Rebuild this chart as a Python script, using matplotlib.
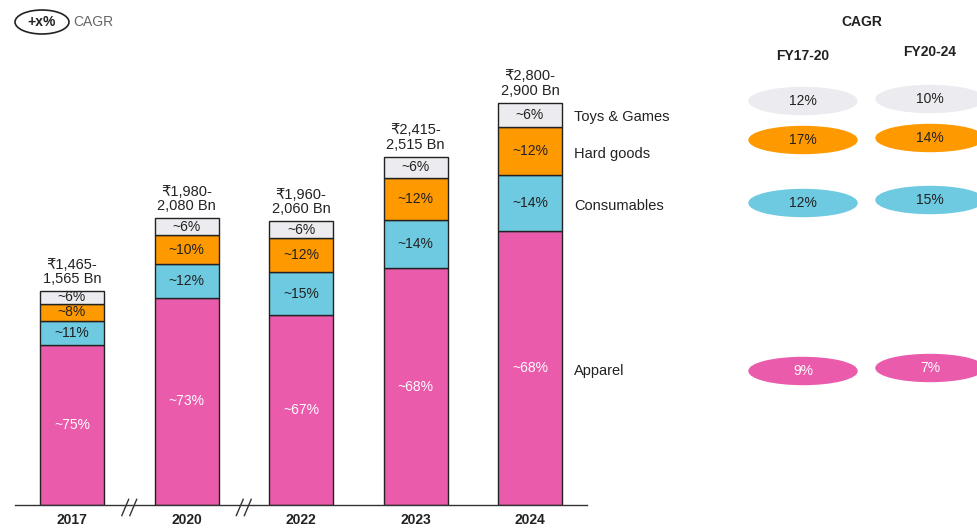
import matplotlib.pyplot as plt
from matplotlib.patches import Ellipse

plt.rcParams['font.family'] = ['Liberation Sans', 'DejaVu Sans']

years = ['2017', '2020', '2022', '2023', '2024']
total_low = [1465, 1980, 1960, 2415, 2800]
total_high = [1565, 2080, 2060, 2515, 2900]
segments = ['Apparel', 'Consumables', 'Hard goods', 'Toys & Games']
shares = {
    'Apparel': [75, 73, 67, 68, 68],
    'Consumables': [11, 12, 15, 14, 14],
    'Hard goods': [8, 10, 12, 12, 12],
    'Toys & Games': [6, 6, 6, 6, 6],
}
cagr_periods = ['FY17-20', 'FY20-24']
cagr = {
    'Toys & Games': ['12%', '10%'],
    'Hard goods': ['17%', '14%'],
    'Consumables': ['12%', '15%'],
    'Apparel': ['9%', '7%'],
}
colors = {'Apparel': '#EB5BAC', 'Consumables': '#6DCAE0',
          'Hard goods': '#FF9900', 'Toys & Games': '#ECECF0'}
text_colors = {'Apparel': 'white', 'Consumables': '#222222',
               'Hard goods': '#222222', 'Toys & Games': '#222222'}

W, H = 978, 528
fig = plt.figure(figsize=(W / 100, H / 100), dpi=100)

# bar axes, in pixel layout
ax_left, ax_right, ax_base = 15, 587, 505
ax = fig.add_axes([ax_left / W, (H - ax_base) / H, (ax_right - ax_left) / W, ax_base / H])
px_per_x = 114.5
x0 = 72
ax.set_xlim((ax_left - x0) / px_per_x, (ax_right - x0) / px_per_x)
ax.set_ylim(0, ax_base / 0.1412)
for s in ['top', 'right', 'left']:
    ax.spines[s].set_visible(False)
ax.spines['bottom'].set_color('#333333')
ax.spines['bottom'].set_linewidth(1.0)
ax.set_yticks([])
ax.set_xticks(range(len(years)))
ax.set_xticklabels(years, fontsize=10, fontweight='bold', color='#222222')
ax.tick_params(axis='x', length=0, pad=6)

width = 64 / px_per_x
for i in range(len(years)):
    total = (total_low[i] + total_high[i]) / 2
    ssum = sum(shares[s][i] for s in segments)
    bottom = 0
    for s in segments:
        h = total * shares[s][i] / ssum
        ax.bar(i, h, width, bottom=bottom, color=colors[s], edgecolor='#222222', linewidth=1.0)
        ax.text(i, bottom + h / 2, '~%d%%' % shares[s][i], ha='center', va='center',
                fontsize=10, color=text_colors[s])
        if i == len(years) - 1:
            ax.text(i + width / 2 + 12 / px_per_x, bottom + h / 2 - 20, s, ha='left', va='center',
                    fontsize=10.5, color='#222222', clip_on=False)
        bottom += h
    ax.text(i, total + 35, '₹{:,}-\n{:,} Bn'.format(total_low[i], total_high[i]),
            ha='center', va='bottom', fontsize=10.5, color='#222222', linespacing=1.05)

# axis break marks
for xb in [0.5, 1.5]:
    for dx in [-0.035, 0.035]:
        ax.plot([xb + dx - 0.03, xb + dx + 0.03], [-75, 40], color='#333333',
                lw=1.0, clip_on=False)

# CAGR panel in figure pixel coords
pan = fig.add_axes([0, 0, 1, 1], facecolor='none')
pan.set_xlim(0, W)
pan.set_ylim(H, 0)
pan.axis('off')
pan.text(862, 22, 'CAGR', ha='center', va='center', fontsize=10, fontweight='bold', color='#222222')
col_x = [803, 930]
head_y = [56, 52]
for j, p in enumerate(cagr_periods):
    pan.text(col_x[j], head_y[j], p, ha='center', va='center', fontsize=10,
             fontweight='bold', color='#222222')
row_y = {'Toys & Games': [101, 99], 'Hard goods': [140, 138],
         'Consumables': [203, 200], 'Apparel': [371, 368]}
for s in ['Toys & Games', 'Hard goods', 'Consumables', 'Apparel']:
    for j in range(2):
        pan.add_patch(Ellipse((col_x[j], row_y[s][j]), 108, 27, color=colors[s]))
        pan.text(col_x[j], row_y[s][j], cagr[s][j], ha='center', va='center',
                 fontsize=10, color=text_colors[s])

# legend key
pan.add_patch(Ellipse((42, 22), 54, 24, facecolor='white', edgecolor='#222222', lw=1.2))
pan.text(42, 22, '+x%', ha='center', va='center', fontsize=10, fontweight='bold', color='#222222')
pan.text(73, 22, 'CAGR', ha='left', va='center', fontsize=10, color='#666666')

fig.savefig('out.png', dpi=100)
